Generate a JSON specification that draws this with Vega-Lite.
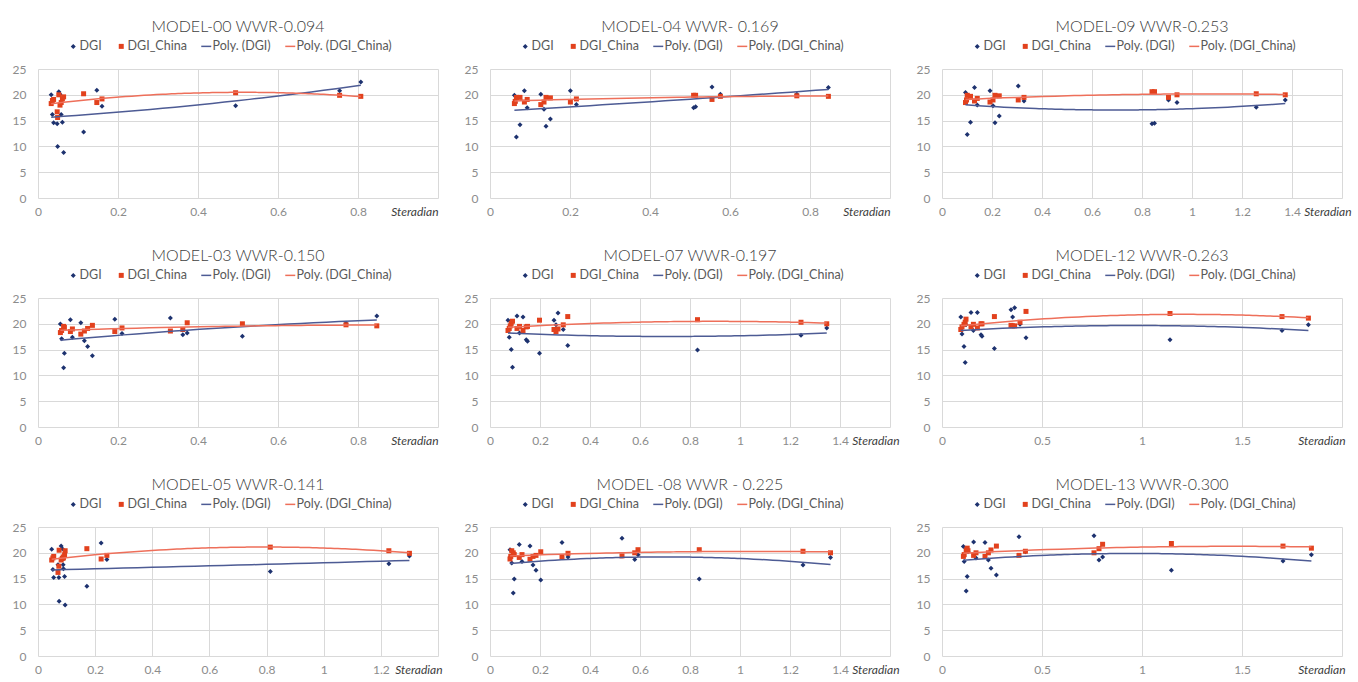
{
  "$schema": "https://vega.github.io/schema/vega-lite/v6.json",
  "background": "white",
  "padding": {"left": 12, "top": 19, "right": 5, "bottom": 0},
  "columns": 3,
  "spacing": {"row": 100, "column": 52},
  "bounds": "flush",
  "resolve": {
    "scale": {"color": "independent", "shape": "independent", "x": "independent", "y": "independent"},
    "legend": {"color": "independent", "shape": "independent"}
  },
  "datasets": {
    "m00": [
      {"s": 0.033, "DGI": 20.0, "DGI_China": 18.3},
      {"s": 0.036, "DGI": 16.2, "DGI_China": 18.9},
      {"s": 0.039, "DGI": 14.6, "DGI_China": 19.1},
      {"s": 0.048, "DGI": 14.4, "DGI_China": 16.7},
      {"s": 0.049, "DGI": 10.0, "DGI_China": 15.6},
      {"s": 0.052, "DGI": 20.6, "DGI_China": 20.0},
      {"s": 0.055, "DGI": 20.1, "DGI_China": 18.0},
      {"s": 0.058, "DGI": 16.2, "DGI_China": 18.5},
      {"s": 0.061, "DGI": 14.7, "DGI_China": 19.2},
      {"s": 0.064, "DGI": 8.8, "DGI_China": 19.6},
      {"s": 0.114, "DGI": 12.8, "DGI_China": 20.2},
      {"s": 0.147, "DGI": 20.9, "DGI_China": 18.5},
      {"s": 0.160, "DGI": 17.8, "DGI_China": 19.2},
      {"s": 0.494, "DGI": 17.9, "DGI_China": 20.4},
      {"s": 0.754, "DGI": 20.8, "DGI_China": 19.9},
      {"s": 0.807, "DGI": 22.5, "DGI_China": 19.7}
    ],
    "m04": [
      {"s": 0.061, "DGI": 19.9, "DGI_China": 18.3},
      {"s": 0.063, "DGI": 18.5, "DGI_China": 18.7},
      {"s": 0.066, "DGI": 11.8, "DGI_China": 19.5},
      {"s": 0.075, "DGI": 14.2, "DGI_China": 19.5},
      {"s": 0.086, "DGI": 20.8, "DGI_China": 18.6},
      {"s": 0.093, "DGI": 17.5, "DGI_China": 19.1},
      {"s": 0.127, "DGI": 20.1, "DGI_China": 18.1},
      {"s": 0.135, "DGI": 17.2, "DGI_China": 18.6},
      {"s": 0.140, "DGI": 13.9, "DGI_China": 19.5},
      {"s": 0.151, "DGI": 15.3, "DGI_China": 19.4},
      {"s": 0.201, "DGI": 20.8, "DGI_China": 18.6},
      {"s": 0.216, "DGI": 18.1, "DGI_China": 19.2},
      {"s": 0.509, "DGI": 17.5, "DGI_China": 19.9},
      {"s": 0.514, "DGI": 17.7, "DGI_China": 19.9},
      {"s": 0.555, "DGI": 21.5, "DGI_China": 19.1},
      {"s": 0.576, "DGI": 20.1, "DGI_China": 19.7},
      {"s": 0.767, "DGI": 20.1, "DGI_China": 19.8},
      {"s": 0.846, "DGI": 21.4, "DGI_China": 19.7}
    ],
    "m09": [
      {"s": 0.094, "DGI": 20.45, "DGI_China": 18.5},
      {"s": 0.098, "DGI": 19.0, "DGI_China": 19.0},
      {"s": 0.101, "DGI": 12.3, "DGI_China": 19.9},
      {"s": 0.114, "DGI": 14.7, "DGI_China": 19.7},
      {"s": 0.130, "DGI": 21.4, "DGI_China": 18.8},
      {"s": 0.141, "DGI": 18.0, "DGI_China": 19.3},
      {"s": 0.192, "DGI": 20.8, "DGI_China": 18.6},
      {"s": 0.204, "DGI": 17.9, "DGI_China": 19.0},
      {"s": 0.212, "DGI": 14.6, "DGI_China": 19.9},
      {"s": 0.229, "DGI": 15.9, "DGI_China": 19.8},
      {"s": 0.305, "DGI": 21.7, "DGI_China": 19.0},
      {"s": 0.328, "DGI": 18.8, "DGI_China": 19.5},
      {"s": 0.840, "DGI": 14.4, "DGI_China": 20.6},
      {"s": 0.850, "DGI": 14.5, "DGI_China": 20.6},
      {"s": 0.906, "DGI": 19.0, "DGI_China": 19.5},
      {"s": 0.940, "DGI": 18.5, "DGI_China": 20.0},
      {"s": 1.257, "DGI": 17.6, "DGI_China": 20.2},
      {"s": 1.373, "DGI": 19.0, "DGI_China": 20.0}
    ],
    "m03": [
      {"s": 0.056, "DGI": 19.96, "DGI_China": 18.3},
      {"s": 0.059, "DGI": 17.1, "DGI_China": 18.7},
      {"s": 0.064, "DGI": 11.5, "DGI_China": 19.5},
      {"s": 0.066, "DGI": 14.3, "DGI_China": 19.3},
      {"s": 0.081, "DGI": 20.8, "DGI_China": 18.5},
      {"s": 0.086, "DGI": 17.4, "DGI_China": 19.0},
      {"s": 0.107, "DGI": 20.2, "DGI_China": 18.0},
      {"s": 0.116, "DGI": 16.7, "DGI_China": 18.6},
      {"s": 0.124, "DGI": 15.6, "DGI_China": 19.1},
      {"s": 0.136, "DGI": 13.8, "DGI_China": 19.7},
      {"s": 0.192, "DGI": 20.9, "DGI_China": 18.5},
      {"s": 0.210, "DGI": 18.1, "DGI_China": 19.2},
      {"s": 0.331, "DGI": 21.1, "DGI_China": 18.6},
      {"s": 0.362, "DGI": 17.9, "DGI_China": 18.9},
      {"s": 0.373, "DGI": 18.2, "DGI_China": 20.2},
      {"s": 0.511, "DGI": 17.6, "DGI_China": 20.0},
      {"s": 0.770, "DGI": 20.1, "DGI_China": 19.8},
      {"s": 0.847, "DGI": 21.5, "DGI_China": 19.6}
    ],
    "m07": [
      {"s": 0.072, "DGI": 20.7, "DGI_China": 18.7},
      {"s": 0.077, "DGI": 17.4, "DGI_China": 19.1},
      {"s": 0.081, "DGI": 19.6, "DGI_China": 19.6},
      {"s": 0.085, "DGI": 15.0, "DGI_China": 20.1},
      {"s": 0.090, "DGI": 11.6, "DGI_China": 20.5},
      {"s": 0.108, "DGI": 21.5, "DGI_China": 19.1},
      {"s": 0.118, "DGI": 18.2, "DGI_China": 19.5},
      {"s": 0.132, "DGI": 21.3, "DGI_China": 18.7},
      {"s": 0.145, "DGI": 16.9, "DGI_China": 19.4},
      {"s": 0.150, "DGI": 16.6, "DGI_China": 19.5},
      {"s": 0.198, "DGI": 14.3, "DGI_China": 20.7},
      {"s": 0.256, "DGI": 20.7, "DGI_China": 18.9},
      {"s": 0.264, "DGI": 19.8, "DGI_China": 18.5},
      {"s": 0.272, "DGI": 22.1, "DGI_China": 19.0},
      {"s": 0.293, "DGI": 18.9, "DGI_China": 19.8},
      {"s": 0.311, "DGI": 15.8, "DGI_China": 21.4},
      {"s": 0.830, "DGI": 14.9, "DGI_China": 20.8},
      {"s": 1.244, "DGI": 17.8, "DGI_China": 20.3},
      {"s": 1.347, "DGI": 19.2, "DGI_China": 20.0}
    ],
    "m12": [
      {"s": 0.094, "DGI": 21.3, "DGI_China": 18.9},
      {"s": 0.100, "DGI": 18.0, "DGI_China": 19.4},
      {"s": 0.110, "DGI": 15.6, "DGI_China": 19.9},
      {"s": 0.116, "DGI": 12.5, "DGI_China": 20.3},
      {"s": 0.120, "DGI": 19.8, "DGI_China": 20.9},
      {"s": 0.145, "DGI": 22.2, "DGI_China": 19.4},
      {"s": 0.157, "DGI": 18.7, "DGI_China": 19.9},
      {"s": 0.177, "DGI": 22.2, "DGI_China": 19.2},
      {"s": 0.195, "DGI": 17.9, "DGI_China": 20.0},
      {"s": 0.200, "DGI": 17.6, "DGI_China": 20.0},
      {"s": 0.262, "DGI": 15.2, "DGI_China": 21.4},
      {"s": 0.345, "DGI": 22.7, "DGI_China": 19.7},
      {"s": 0.353, "DGI": 21.3, "DGI_China": 19.6},
      {"s": 0.363, "DGI": 23.1, "DGI_China": 19.6},
      {"s": 0.390, "DGI": 19.9, "DGI_China": 20.3},
      {"s": 0.420, "DGI": 17.3, "DGI_China": 22.4},
      {"s": 1.140, "DGI": 16.9, "DGI_China": 22.0},
      {"s": 1.700, "DGI": 18.7, "DGI_China": 21.4},
      {"s": 1.832, "DGI": 19.8, "DGI_China": 21.1}
    ],
    "m05": [
      {"s": 0.048, "DGI": 20.7, "DGI_China": 18.6},
      {"s": 0.052, "DGI": 16.75, "DGI_China": 19.0},
      {"s": 0.055, "DGI": 15.2, "DGI_China": 19.3},
      {"s": 0.070, "DGI": 17.7, "DGI_China": 16.2},
      {"s": 0.073, "DGI": 15.2, "DGI_China": 17.4},
      {"s": 0.074, "DGI": 10.6, "DGI_China": 20.5},
      {"s": 0.081, "DGI": 21.3, "DGI_China": 18.6},
      {"s": 0.085, "DGI": 20.8, "DGI_China": 18.9},
      {"s": 0.088, "DGI": 17.7, "DGI_China": 19.2},
      {"s": 0.089, "DGI": 16.9, "DGI_China": 19.0},
      {"s": 0.093, "DGI": 15.4, "DGI_China": 19.6},
      {"s": 0.095, "DGI": 9.9, "DGI_China": 20.4},
      {"s": 0.171, "DGI": 13.5, "DGI_China": 20.8},
      {"s": 0.221, "DGI": 21.9, "DGI_China": 18.8},
      {"s": 0.241, "DGI": 18.7, "DGI_China": 19.5},
      {"s": 0.813, "DGI": 16.4, "DGI_China": 21.1},
      {"s": 1.228, "DGI": 17.9, "DGI_China": 20.4},
      {"s": 1.300, "DGI": 19.4, "DGI_China": 19.9}
    ],
    "m08": [
      {"s": 0.080, "DGI": 20.6, "DGI_China": 18.8},
      {"s": 0.083, "DGI": 19.3, "DGI_China": 19.3},
      {"s": 0.087, "DGI": 18.0, "DGI_China": 20.4},
      {"s": 0.093, "DGI": 12.2, "DGI_China": 20.0},
      {"s": 0.097, "DGI": 14.9, "DGI_China": 19.65},
      {"s": 0.117, "DGI": 21.6, "DGI_China": 19.1},
      {"s": 0.128, "DGI": 18.3, "DGI_China": 19.65},
      {"s": 0.160, "DGI": 21.3, "DGI_China": 18.75},
      {"s": 0.172, "DGI": 17.65, "DGI_China": 19.3},
      {"s": 0.184, "DGI": 16.6, "DGI_China": 19.5},
      {"s": 0.203, "DGI": 14.75, "DGI_China": 20.2},
      {"s": 0.288, "DGI": 22.0, "DGI_China": 19.2},
      {"s": 0.312, "DGI": 19.2, "DGI_China": 19.9},
      {"s": 0.528, "DGI": 22.8, "DGI_China": 19.4},
      {"s": 0.579, "DGI": 18.7, "DGI_China": 20.0},
      {"s": 0.592, "DGI": 19.6, "DGI_China": 20.6},
      {"s": 0.837, "DGI": 14.9, "DGI_China": 20.6},
      {"s": 1.252, "DGI": 17.65, "DGI_China": 20.3},
      {"s": 1.362, "DGI": 19.1, "DGI_China": 20.0}
    ],
    "m13": [
      {"s": 0.107, "DGI": 21.2, "DGI_China": 19.3},
      {"s": 0.111, "DGI": 18.3, "DGI_China": 19.65},
      {"s": 0.121, "DGI": 12.6, "DGI_China": 20.5},
      {"s": 0.126, "DGI": 15.4, "DGI_China": 20.9},
      {"s": 0.130, "DGI": 20.2, "DGI_China": 20.4},
      {"s": 0.158, "DGI": 22.1, "DGI_China": 19.5},
      {"s": 0.170, "DGI": 19.0, "DGI_China": 20.0},
      {"s": 0.215, "DGI": 22.0, "DGI_China": 19.3},
      {"s": 0.232, "DGI": 18.6, "DGI_China": 20.0},
      {"s": 0.245, "DGI": 17.0, "DGI_China": 20.55},
      {"s": 0.272, "DGI": 15.7, "DGI_China": 21.3},
      {"s": 0.385, "DGI": 23.1, "DGI_China": 19.5},
      {"s": 0.417, "DGI": 20.2, "DGI_China": 20.3},
      {"s": 0.760, "DGI": 23.3, "DGI_China": 20.0},
      {"s": 0.785, "DGI": 18.6, "DGI_China": 20.8},
      {"s": 0.803, "DGI": 19.2, "DGI_China": 21.65},
      {"s": 1.147, "DGI": 16.6, "DGI_China": 21.8},
      {"s": 1.705, "DGI": 18.4, "DGI_China": 21.3},
      {"s": 1.847, "DGI": 19.6, "DGI_China": 20.9}
    ]
  },
  "concat": [
    {
      "title": "MODEL-00 WWR-0.094",
      "width": 400, "height": 129,
      "data": {"name": "m00"},
      "transform": [{"fold": ["DGI", "DGI_China"], "as": ["series", "v"]}],
      "encoding": {
        "x": {"field": "s", "type": "quantitative", "title": "Steradian", "scale": {"domain": [0, 1]},
              "axis": {"values": [0, 0.2, 0.4, 0.6, 0.8, 1], "format": "~g", "labelExpr": "datum.index >= 1 ? '' : datum.label", "titleX": 400}},
        "y": {"field": "v", "type": "quantitative", "title": null, "scale": {"domain": [0, 25]}, "axis": {"values": [0, 5, 10, 15, 20, 25]}}
      },
      "layer": [
        {"mark": {"type": "point", "filled": true, "size": 100, "opacity": 1},
         "encoding": {
           "order": {"field": "series"},
           "color": {"field": "series", "type": "nominal", "scale": {"domain": ["DGI", "DGI_China", "Poly. (DGI)", "Poly. (DGI_China)"], "range": ["#1d326f", "#e2411d", "#4d5b94", "#ee6f5a"]}, "legend": {"title": null, "orient": "none", "direction": "horizontal", "legendX": 29, "legendY": -29}},
           "shape": {"field": "series", "type": "nominal", "scale": {"domain": ["DGI", "DGI_China", "Poly. (DGI)", "Poly. (DGI_China)"], "range": ["M0,-0.5L0.5,0L0,0.5L-0.5,0Z", "M-0.5,-0.5H0.5V0.5H-0.5Z", "M-1,-0.15H1V0.15H-1Z", "M-1,-0.15H1V0.15H-1Z"]}, "legend": {"title": null, "orient": "none", "direction": "horizontal", "legendX": 29, "legendY": -29}}
         }},
        {"transform": [{"filter": "datum.series === 'DGI'"}, {"regression": "v", "on": "s", "method": "poly", "order": 2}], "mark": {"type": "line", "color": "#4d5b94", "strokeWidth": 1.5}},
        {"transform": [{"filter": "datum.series === 'DGI_China'"}, {"regression": "v", "on": "s", "method": "poly", "order": 2}], "mark": {"type": "line", "color": "#ee6f5a", "strokeWidth": 1.5}}
      ]
    },
    {
      "title": "MODEL-04 WWR- 0.169",
      "width": 400, "height": 129,
      "data": {"name": "m04"},
      "transform": [{"fold": ["DGI", "DGI_China"], "as": ["series", "v"]}],
      "encoding": {
        "x": {"field": "s", "type": "quantitative", "title": "Steradian", "scale": {"domain": [0, 1]},
              "axis": {"values": [0, 0.2, 0.4, 0.6, 0.8, 1], "format": "~g", "labelExpr": "datum.index >= 1 ? '' : datum.label", "titleX": 400}},
        "y": {"field": "v", "type": "quantitative", "title": null, "scale": {"domain": [0, 25]}, "axis": {"values": [0, 5, 10, 15, 20, 25]}}
      },
      "layer": [
        {"mark": {"type": "point", "filled": true, "size": 100, "opacity": 1},
         "encoding": {
           "order": {"field": "series"},
           "color": {"field": "series", "type": "nominal", "scale": {"domain": ["DGI", "DGI_China", "Poly. (DGI)", "Poly. (DGI_China)"], "range": ["#1d326f", "#e2411d", "#4d5b94", "#ee6f5a"]}, "legend": {"title": null, "orient": "none", "direction": "horizontal", "legendX": 29, "legendY": -29}},
           "shape": {"field": "series", "type": "nominal", "scale": {"domain": ["DGI", "DGI_China", "Poly. (DGI)", "Poly. (DGI_China)"], "range": ["M0,-0.5L0.5,0L0,0.5L-0.5,0Z", "M-0.5,-0.5H0.5V0.5H-0.5Z", "M-1,-0.15H1V0.15H-1Z", "M-1,-0.15H1V0.15H-1Z"]}, "legend": {"title": null, "orient": "none", "direction": "horizontal", "legendX": 29, "legendY": -29}}
         }},
        {"transform": [{"filter": "datum.series === 'DGI'"}, {"regression": "v", "on": "s", "method": "poly", "order": 2}], "mark": {"type": "line", "color": "#4d5b94", "strokeWidth": 1.5}},
        {"transform": [{"filter": "datum.series === 'DGI_China'"}, {"regression": "v", "on": "s", "method": "poly", "order": 2}], "mark": {"type": "line", "color": "#ee6f5a", "strokeWidth": 1.5}}
      ]
    },
    {
      "title": "MODEL-09 WWR-0.253",
      "width": 400, "height": 129,
      "data": {"name": "m09"},
      "transform": [{"fold": ["DGI", "DGI_China"], "as": ["series", "v"]}],
      "encoding": {
        "x": {"field": "s", "type": "quantitative", "title": "Steradian", "scale": {"domain": [0, 1.6]},
              "axis": {"values": [0, 0.2, 0.4, 0.6, 0.8, 1, 1.2, 1.4, 1.6], "format": "~g", "labelExpr": "datum.index >= 1 ? '' : datum.label", "titleX": 409}},
        "y": {"field": "v", "type": "quantitative", "title": null, "scale": {"domain": [0, 25]}, "axis": {"values": [0, 5, 10, 15, 20, 25]}}
      },
      "layer": [
        {"mark": {"type": "point", "filled": true, "size": 100, "opacity": 1},
         "encoding": {
           "order": {"field": "series"},
           "color": {"field": "series", "type": "nominal", "scale": {"domain": ["DGI", "DGI_China", "Poly. (DGI)", "Poly. (DGI_China)"], "range": ["#1d326f", "#e2411d", "#4d5b94", "#ee6f5a"]}, "legend": {"title": null, "orient": "none", "direction": "horizontal", "legendX": 29, "legendY": -29}},
           "shape": {"field": "series", "type": "nominal", "scale": {"domain": ["DGI", "DGI_China", "Poly. (DGI)", "Poly. (DGI_China)"], "range": ["M0,-0.5L0.5,0L0,0.5L-0.5,0Z", "M-0.5,-0.5H0.5V0.5H-0.5Z", "M-1,-0.15H1V0.15H-1Z", "M-1,-0.15H1V0.15H-1Z"]}, "legend": {"title": null, "orient": "none", "direction": "horizontal", "legendX": 29, "legendY": -29}}
         }},
        {"transform": [{"filter": "datum.series === 'DGI'"}, {"regression": "v", "on": "s", "method": "poly", "order": 2}], "mark": {"type": "line", "color": "#4d5b94", "strokeWidth": 1.5}},
        {"transform": [{"filter": "datum.series === 'DGI_China'"}, {"regression": "v", "on": "s", "method": "poly", "order": 2}], "mark": {"type": "line", "color": "#ee6f5a", "strokeWidth": 1.5}}
      ]
    },
    {
      "title": "MODEL-03 WWR-0.150",
      "width": 400, "height": 129,
      "data": {"name": "m03"},
      "transform": [{"fold": ["DGI", "DGI_China"], "as": ["series", "v"]}],
      "encoding": {
        "x": {"field": "s", "type": "quantitative", "title": "Steradian", "scale": {"domain": [0, 1]},
              "axis": {"values": [0, 0.2, 0.4, 0.6, 0.8, 1], "format": "~g", "labelExpr": "datum.index >= 1 ? '' : datum.label", "titleX": 400}},
        "y": {"field": "v", "type": "quantitative", "title": null, "scale": {"domain": [0, 25]}, "axis": {"values": [0, 5, 10, 15, 20, 25]}}
      },
      "layer": [
        {"mark": {"type": "point", "filled": true, "size": 100, "opacity": 1},
         "encoding": {
           "order": {"field": "series"},
           "color": {"field": "series", "type": "nominal", "scale": {"domain": ["DGI", "DGI_China", "Poly. (DGI)", "Poly. (DGI_China)"], "range": ["#1d326f", "#e2411d", "#4d5b94", "#ee6f5a"]}, "legend": {"title": null, "orient": "none", "direction": "horizontal", "legendX": 29, "legendY": -29}},
           "shape": {"field": "series", "type": "nominal", "scale": {"domain": ["DGI", "DGI_China", "Poly. (DGI)", "Poly. (DGI_China)"], "range": ["M0,-0.5L0.5,0L0,0.5L-0.5,0Z", "M-0.5,-0.5H0.5V0.5H-0.5Z", "M-1,-0.15H1V0.15H-1Z", "M-1,-0.15H1V0.15H-1Z"]}, "legend": {"title": null, "orient": "none", "direction": "horizontal", "legendX": 29, "legendY": -29}}
         }},
        {"transform": [{"filter": "datum.series === 'DGI'"}, {"regression": "v", "on": "s", "method": "poly", "order": 2}], "mark": {"type": "line", "color": "#4d5b94", "strokeWidth": 1.5}},
        {"transform": [{"filter": "datum.series === 'DGI_China'"}, {"regression": "v", "on": "s", "method": "poly", "order": 2}], "mark": {"type": "line", "color": "#ee6f5a", "strokeWidth": 1.5}}
      ]
    },
    {
      "title": "MODEL-07 WWR-0.197",
      "width": 400, "height": 129,
      "data": {"name": "m07"},
      "transform": [{"fold": ["DGI", "DGI_China"], "as": ["series", "v"]}],
      "encoding": {
        "x": {"field": "s", "type": "quantitative", "title": "Steradian", "scale": {"domain": [0, 1.6]},
              "axis": {"values": [0, 0.2, 0.4, 0.6, 0.8, 1, 1.2, 1.4, 1.6], "format": "~g", "labelExpr": "datum.index >= 1 ? '' : datum.label", "titleX": 409}},
        "y": {"field": "v", "type": "quantitative", "title": null, "scale": {"domain": [0, 25]}, "axis": {"values": [0, 5, 10, 15, 20, 25]}}
      },
      "layer": [
        {"mark": {"type": "point", "filled": true, "size": 100, "opacity": 1},
         "encoding": {
           "order": {"field": "series"},
           "color": {"field": "series", "type": "nominal", "scale": {"domain": ["DGI", "DGI_China", "Poly. (DGI)", "Poly. (DGI_China)"], "range": ["#1d326f", "#e2411d", "#4d5b94", "#ee6f5a"]}, "legend": {"title": null, "orient": "none", "direction": "horizontal", "legendX": 29, "legendY": -29}},
           "shape": {"field": "series", "type": "nominal", "scale": {"domain": ["DGI", "DGI_China", "Poly. (DGI)", "Poly. (DGI_China)"], "range": ["M0,-0.5L0.5,0L0,0.5L-0.5,0Z", "M-0.5,-0.5H0.5V0.5H-0.5Z", "M-1,-0.15H1V0.15H-1Z", "M-1,-0.15H1V0.15H-1Z"]}, "legend": {"title": null, "orient": "none", "direction": "horizontal", "legendX": 29, "legendY": -29}}
         }},
        {"transform": [{"filter": "datum.series === 'DGI'"}, {"regression": "v", "on": "s", "method": "poly", "order": 2}], "mark": {"type": "line", "color": "#4d5b94", "strokeWidth": 1.5}},
        {"transform": [{"filter": "datum.series === 'DGI_China'"}, {"regression": "v", "on": "s", "method": "poly", "order": 2}], "mark": {"type": "line", "color": "#ee6f5a", "strokeWidth": 1.5}}
      ]
    },
    {
      "title": "MODEL-12 WWR-0.263",
      "width": 400, "height": 129,
      "data": {"name": "m12"},
      "transform": [{"fold": ["DGI", "DGI_China"], "as": ["series", "v"]}],
      "encoding": {
        "x": {"field": "s", "type": "quantitative", "title": "Steradian", "scale": {"domain": [0, 2]},
              "axis": {"values": [0, 0.5, 1, 1.5, 2], "format": "~g", "labelExpr": "datum.index >= 1 ? '' : datum.label", "titleX": 403}},
        "y": {"field": "v", "type": "quantitative", "title": null, "scale": {"domain": [0, 25]}, "axis": {"values": [0, 5, 10, 15, 20, 25]}}
      },
      "layer": [
        {"mark": {"type": "point", "filled": true, "size": 100, "opacity": 1},
         "encoding": {
           "order": {"field": "series"},
           "color": {"field": "series", "type": "nominal", "scale": {"domain": ["DGI", "DGI_China", "Poly. (DGI)", "Poly. (DGI_China)"], "range": ["#1d326f", "#e2411d", "#4d5b94", "#ee6f5a"]}, "legend": {"title": null, "orient": "none", "direction": "horizontal", "legendX": 29, "legendY": -29}},
           "shape": {"field": "series", "type": "nominal", "scale": {"domain": ["DGI", "DGI_China", "Poly. (DGI)", "Poly. (DGI_China)"], "range": ["M0,-0.5L0.5,0L0,0.5L-0.5,0Z", "M-0.5,-0.5H0.5V0.5H-0.5Z", "M-1,-0.15H1V0.15H-1Z", "M-1,-0.15H1V0.15H-1Z"]}, "legend": {"title": null, "orient": "none", "direction": "horizontal", "legendX": 29, "legendY": -29}}
         }},
        {"transform": [{"filter": "datum.series === 'DGI'"}, {"regression": "v", "on": "s", "method": "poly", "order": 2}], "mark": {"type": "line", "color": "#4d5b94", "strokeWidth": 1.5}},
        {"transform": [{"filter": "datum.series === 'DGI_China'"}, {"regression": "v", "on": "s", "method": "poly", "order": 2}], "mark": {"type": "line", "color": "#ee6f5a", "strokeWidth": 1.5}}
      ]
    },
    {
      "title": "MODEL-05 WWR-0.141",
      "width": 400, "height": 129,
      "data": {"name": "m05"},
      "transform": [{"fold": ["DGI", "DGI_China"], "as": ["series", "v"]}],
      "encoding": {
        "x": {"field": "s", "type": "quantitative", "title": "Steradian", "scale": {"domain": [0, 1.4]},
              "axis": {"values": [0, 0.2, 0.4, 0.6, 0.8, 1, 1.2, 1.4], "format": "~g", "labelExpr": "datum.index >= 1 ? '' : datum.label", "titleX": 404}},
        "y": {"field": "v", "type": "quantitative", "title": null, "scale": {"domain": [0, 25]}, "axis": {"values": [0, 5, 10, 15, 20, 25]}}
      },
      "layer": [
        {"mark": {"type": "point", "filled": true, "size": 100, "opacity": 1},
         "encoding": {
           "order": {"field": "series"},
           "color": {"field": "series", "type": "nominal", "scale": {"domain": ["DGI", "DGI_China", "Poly. (DGI)", "Poly. (DGI_China)"], "range": ["#1d326f", "#e2411d", "#4d5b94", "#ee6f5a"]}, "legend": {"title": null, "orient": "none", "direction": "horizontal", "legendX": 29, "legendY": -29}},
           "shape": {"field": "series", "type": "nominal", "scale": {"domain": ["DGI", "DGI_China", "Poly. (DGI)", "Poly. (DGI_China)"], "range": ["M0,-0.5L0.5,0L0,0.5L-0.5,0Z", "M-0.5,-0.5H0.5V0.5H-0.5Z", "M-1,-0.15H1V0.15H-1Z", "M-1,-0.15H1V0.15H-1Z"]}, "legend": {"title": null, "orient": "none", "direction": "horizontal", "legendX": 29, "legendY": -29}}
         }},
        {"transform": [{"filter": "datum.series === 'DGI'"}, {"regression": "v", "on": "s", "method": "poly", "order": 2}], "mark": {"type": "line", "color": "#4d5b94", "strokeWidth": 1.5}},
        {"transform": [{"filter": "datum.series === 'DGI_China'"}, {"regression": "v", "on": "s", "method": "poly", "order": 2}], "mark": {"type": "line", "color": "#ee6f5a", "strokeWidth": 1.5}}
      ]
    },
    {
      "title": "MODEL -08 WWR - 0.225",
      "width": 400, "height": 129,
      "data": {"name": "m08"},
      "transform": [{"fold": ["DGI", "DGI_China"], "as": ["series", "v"]}],
      "encoding": {
        "x": {"field": "s", "type": "quantitative", "title": "Steradian", "scale": {"domain": [0, 1.6]},
              "axis": {"values": [0, 0.2, 0.4, 0.6, 0.8, 1, 1.2, 1.4, 1.6], "format": "~g", "labelExpr": "datum.index >= 1 ? '' : datum.label", "titleX": 409}},
        "y": {"field": "v", "type": "quantitative", "title": null, "scale": {"domain": [0, 25]}, "axis": {"values": [0, 5, 10, 15, 20, 25]}}
      },
      "layer": [
        {"mark": {"type": "point", "filled": true, "size": 100, "opacity": 1},
         "encoding": {
           "order": {"field": "series"},
           "color": {"field": "series", "type": "nominal", "scale": {"domain": ["DGI", "DGI_China", "Poly. (DGI)", "Poly. (DGI_China)"], "range": ["#1d326f", "#e2411d", "#4d5b94", "#ee6f5a"]}, "legend": {"title": null, "orient": "none", "direction": "horizontal", "legendX": 29, "legendY": -29}},
           "shape": {"field": "series", "type": "nominal", "scale": {"domain": ["DGI", "DGI_China", "Poly. (DGI)", "Poly. (DGI_China)"], "range": ["M0,-0.5L0.5,0L0,0.5L-0.5,0Z", "M-0.5,-0.5H0.5V0.5H-0.5Z", "M-1,-0.15H1V0.15H-1Z", "M-1,-0.15H1V0.15H-1Z"]}, "legend": {"title": null, "orient": "none", "direction": "horizontal", "legendX": 29, "legendY": -29}}
         }},
        {"transform": [{"filter": "datum.series === 'DGI'"}, {"regression": "v", "on": "s", "method": "poly", "order": 2}], "mark": {"type": "line", "color": "#4d5b94", "strokeWidth": 1.5}},
        {"transform": [{"filter": "datum.series === 'DGI_China'"}, {"regression": "v", "on": "s", "method": "poly", "order": 2}], "mark": {"type": "line", "color": "#ee6f5a", "strokeWidth": 1.5}}
      ]
    },
    {
      "title": "MODEL-13 WWR-0.300",
      "width": 400, "height": 129,
      "data": {"name": "m13"},
      "transform": [{"fold": ["DGI", "DGI_China"], "as": ["series", "v"]}],
      "encoding": {
        "x": {"field": "s", "type": "quantitative", "title": "Steradian", "scale": {"domain": [0, 2]},
              "axis": {"values": [0, 0.5, 1, 1.5, 2], "format": "~g", "labelExpr": "datum.index >= 1 ? '' : datum.label", "titleX": 403}},
        "y": {"field": "v", "type": "quantitative", "title": null, "scale": {"domain": [0, 25]}, "axis": {"values": [0, 5, 10, 15, 20, 25]}}
      },
      "layer": [
        {"mark": {"type": "point", "filled": true, "size": 100, "opacity": 1},
         "encoding": {
           "order": {"field": "series"},
           "color": {"field": "series", "type": "nominal", "scale": {"domain": ["DGI", "DGI_China", "Poly. (DGI)", "Poly. (DGI_China)"], "range": ["#1d326f", "#e2411d", "#4d5b94", "#ee6f5a"]}, "legend": {"title": null, "orient": "none", "direction": "horizontal", "legendX": 29, "legendY": -29}},
           "shape": {"field": "series", "type": "nominal", "scale": {"domain": ["DGI", "DGI_China", "Poly. (DGI)", "Poly. (DGI_China)"], "range": ["M0,-0.5L0.5,0L0,0.5L-0.5,0Z", "M-0.5,-0.5H0.5V0.5H-0.5Z", "M-1,-0.15H1V0.15H-1Z", "M-1,-0.15H1V0.15H-1Z"]}, "legend": {"title": null, "orient": "none", "direction": "horizontal", "legendX": 29, "legendY": -29}}
         }},
        {"transform": [{"filter": "datum.series === 'DGI'"}, {"regression": "v", "on": "s", "method": "poly", "order": 2}], "mark": {"type": "line", "color": "#4d5b94", "strokeWidth": 1.5}},
        {"transform": [{"filter": "datum.series === 'DGI_China'"}, {"regression": "v", "on": "s", "method": "poly", "order": 2}], "mark": {"type": "line", "color": "#ee6f5a", "strokeWidth": 1.5}}
      ]
    }
  ],
  "config": {
    "font": "Lato",
    "view": {"stroke": null},
    "title": {"font": "Lato", "fontSize": 16, "fontWeight": 300, "color": "#404040", "anchor": "middle", "offset": 5},
    "axis": {
      "domain": false, "ticks": false, "grid": true, "gridColor": "#d9d9d9", "gridWidth": 1,
      "labelFont": "Lato", "labelFontSize": 12, "labelColor": "#8c8c8c", "labelFlush": false, "labelOverlap": false
    },
    "axisX": {
      "labelPadding": 8,
      "titleFont": "Lato", "titleFontSize": 12, "titleFontStyle": "italic", "titleFontWeight": "normal",
      "titleColor": "#404040", "titleAlign": "right", "titleBaseline": "top", "titleY": 8
    },
    "axisY": {"labelPadding": 12},
    "legend": {
      "labelFont": "Lato", "labelFontSize": 12.5, "labelColor": "#595959",
      "symbolSize": 100, "symbolStrokeWidth": 0, "labelOffset": 0, "columnPadding": 13
    }
  }
}
